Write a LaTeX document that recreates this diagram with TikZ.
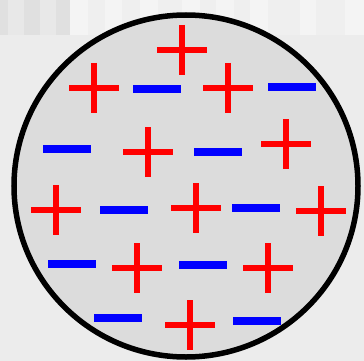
\documentclass[tikz,border=0pt]{standalone}
\begin{document}
\begin{tikzpicture}[x=1pt,y=-1pt,
  plusbar/.style={draw=red,line width=6.5pt},
  minusbar/.style={draw=blue,line width=8pt},
  ball/.style={draw=black,fill=ballgray,line width=5.5pt}]
\definecolor{bggray}{HTML}{ECECEC}
\definecolor{ballgray}{HTML}{DCDCDC}
\definecolor{stA}{HTML}{E0E0E0}
\definecolor{stB}{HTML}{E8E8E8}
\definecolor{stC}{HTML}{F4F4F4}
\definecolor{stD}{HTML}{EFEFEF}
\useasboundingbox (0,0) rectangle (364,361);
\fill[bggray] (0,0) rectangle (364,361);
% striped top strip
\fill[stB] (0,0) rectangle (364,35);
\fill[stA] (0,0) rectangle (8,35);
\fill[stA] (24,0) rectangle (40,35);
\fill[stA] (56,0) rectangle (70,35);
\fill[stC] (70,0) rectangle (88,35);
\fill[stD] (88,0) rectangle (105,35);
\fill[stC] (105,0) rectangle (122,35);
\fill[stD] (122,0) rectangle (140,35);
\fill[stC] (140,0) rectangle (158,35);
\fill[stD] (158,0) rectangle (182,35);
\fill[stC] (182,0) rectangle (200,35);
\fill[stD] (200,0) rectangle (216,35);
\fill[stC] (216,0) rectangle (234,35);
\fill[stD] (234,0) rectangle (250,35);
\fill[stC] (250,0) rectangle (268,35);
\fill[stD] (268,0) rectangle (300,35);
\fill[stC] (300,0) rectangle (316,35);
\fill[stD] (316,0) rectangle (345,35);
\fill[stC] (345,0) rectangle (364,35);
% sphere
\draw[ball] (186,186) ellipse [x radius=172, y radius=171];
% plus charges
\foreach \x/\y in {182/50, 94/88, 228/88, 148/152, 286/144, 56/210, 196/208, 321/211, 137/268, 268/268, 190/325}{
  \draw[plusbar] (\x-25,\y) -- (\x+25,\y);
  \draw[plusbar] (\x,\y-25) -- (\x,\y+25);
}
% minus charges
\foreach \x/\y in {157/89, 292/87, 67/149, 218/152, 124/210, 256/208, 72/264, 203/265, 118/318, 257/321}{
  \draw[minusbar] (\x-24,\y) -- (\x+24,\y);
}
\end{tikzpicture}
\end{document}
